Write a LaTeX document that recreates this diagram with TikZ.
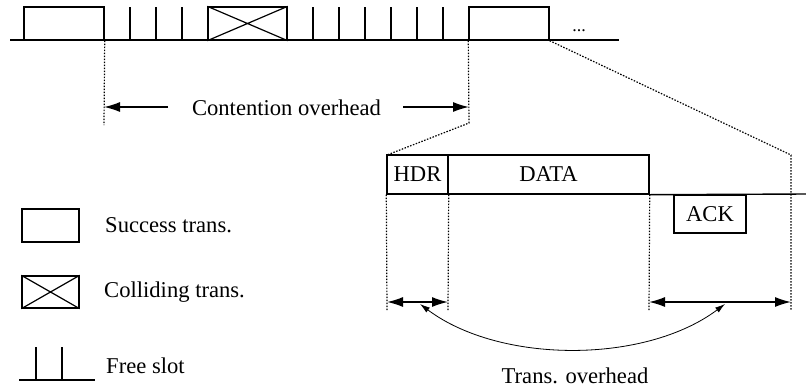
\documentclass[tikz,border=0pt]{standalone}
\usepackage{fontspec}
\setmainfont{Liberation Serif}
\usetikzlibrary{arrows.meta}
\begin{document}
\begin{tikzpicture}[x=1pt,y=-1pt,
  font=\fontsize{22.6}{27}\selectfont,
  solid line/.style={line width=1.4pt},
  tbox/.style={draw, line width=1.4pt, inner sep=0pt},
  dotline/.style={line width=1.2pt, dash pattern=on 1.5pt off 1.5pt},
  lbl/.style={inner sep=0pt},
  bigarrow/.style={line width=1.4pt, -{Latex[length=16pt,width=10pt]}},
  dblarrow/.style={line width=1.4pt, {Latex[length=16pt,width=10pt]}-{Latex[length=16pt,width=10pt]}},
  curvearrow/.style={line width=0.8pt, {Latex[length=10pt,width=6pt]}-{Latex[length=10pt,width=6pt]}}
]
\useasboundingbox (0,0) rectangle (806,389);

% ---------- top timeline ----------
\coordinate (t0) at (10,40);
\coordinate (t1) at (619,40);
\draw[solid line] (t0) -- (t1);
\node[tbox, minimum width=80pt, minimum height=33pt] (s1) at (64,23.5) {};
\node[tbox, minimum width=79pt, minimum height=33pt] (c1) at (247.5,23.5) {};
\draw[line width=1.2pt] (c1.north west) -- (c1.south east) (c1.south west) -- (c1.north east);
\node[tbox, minimum width=80pt, minimum height=33pt] (s2) at (509,23.5) {};
\foreach \x/\n in {130/a,156/b,182/c,313/d,339/e,365/f,391/g,417/h,443/i}{
  \coordinate (fb\n) at (\x,40);
  \coordinate (ft\n) at (\x,7);
  \draw[solid line] (fb\n) -- (ft\n);
}
\node[lbl, anchor=base] (dots) at (579,31) {\fontsize{18}{20}\selectfont ...};

% ---------- contention overhead ----------
\coordinate (d1) at (104,125);
\draw[dotline] (s1.south east) -- (d1);
\coordinate (d2) at (469,123);
\coordinate (zl) at (387,155);
\draw[dotline] (s2.south west) -- (d2) -- (zl);
\coordinate (al) at (168,107);
\coordinate (alh) at (104,107);
\coordinate (ar) at (403,107);
\coordinate (arh) at (469,107);
\draw[bigarrow] (al) -- (alh);
\draw[bigarrow] (ar) -- (arh);
\node[lbl, anchor=base] (co) at (286.5,115) {Contention overhead};

% ---------- zoomed transmission ----------
\node[tbox, minimum width=61pt, minimum height=39pt] (hdr) at (417.5,174.5) {HDR};
\node[tbox, minimum width=201pt, minimum height=39pt] (data) at (548.5,174.5) {DATA};
\coordinate (le) at (806,194);
\draw[solid line] (data.south east) -- (le);
\node[tbox, minimum width=72pt, minimum height=38pt] (ack) at (710,214) {ACK};
\coordinate (zr) at (791,155);
\coordinate (zrb) at (791,310);
\draw[dotline] (s2.south east) -- (zr) -- (zrb);

\coordinate (v1) at (387,310);
\coordinate (v2) at (448,310);
\coordinate (v3) at (649,310);
\draw[dotline] (hdr.south west) -- (v1);
\draw[dotline] (hdr.south east) -- (v2);
\draw[dotline] (data.south east) -- (v3);

\coordinate (h1) at (387,302);
\coordinate (h2) at (448,302);
\coordinate (h3) at (649,302);
\coordinate (h4) at (791,302);
\draw[dblarrow] (h1) -- (h2);
\draw[dblarrow] (h3) -- (h4);

\coordinate (ca) at (420,304);
\coordinate (cb) at (725,304);
\draw[curvearrow] (ca) .. controls (500,364) and (645,364) .. (cb);
\node[lbl, anchor=base] (to) at (575,383) {Trans. overhead};

% ---------- legend ----------
\node[tbox, minimum width=57pt, minimum height=33pt] (ls) at (50.5,225.5) {};
\node[lbl, anchor=base west] (lst) at (105,232) {Success trans.};
\node[tbox, minimum width=57pt, minimum height=32pt] (lc) at (50.5,292) {};
\draw[line width=1.2pt] (lc.north west) -- (lc.south east) (lc.south west) -- (lc.north east);
\node[lbl, anchor=base west] (lct) at (104,297) {Colliding trans.};
\coordinate (lf0) at (19,380);
\coordinate (lf1) at (95,380);
\draw[solid line] (lf0) -- (lf1);
\coordinate (lfa) at (36,380);
\coordinate (lfat) at (36,347);
\coordinate (lfb) at (62,380);
\coordinate (lfbt) at (62,347);
\draw[solid line] (lfa) -- (lfat) (lfb) -- (lfbt);
\node[lbl, anchor=base west] (lft) at (106,373) {Free slot};
\end{tikzpicture}
\end{document}
